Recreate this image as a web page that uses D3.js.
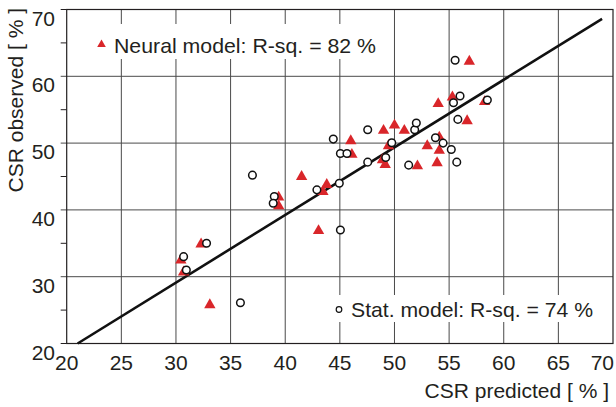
<!DOCTYPE html>
<html>
<head>
<meta charset="utf-8">
<script src="https://cdn.jsdelivr.net/npm/d3@7"></script>
<style>
    body { margin: 0; background: #fff; }
    svg text { font-family: "Liberation Sans", Arial, sans-serif; fill: #231f20; }
</style>
</head>
<body>
<svg id="svg1" width="616" height="407"></svg>
<script>
    // neural model: predicted / observed
    var neuralX = [32.3, 30.45, 30.7, 33.1, 39.4, 39.4, 41.5, 43.45, 43.8, 43.05, 46.0, 46.1, 49.0, 50.0, 50.9, 49.45, 48.9, 49.15, 53.0, 54.1, 54.1, 53.9, 52.1, 54.0, 55.3, 56.85, 58.25, 56.65];
    var neuralY = [35.0, 32.6, 30.8, 25.9, 42.0, 40.7, 45.1, 42.85, 43.9, 37.0, 50.45, 48.4, 52.0, 52.8, 52.0, 49.7, 47.6, 46.9, 49.7, 51.0, 49.0, 47.15, 46.7, 56.0, 57.0, 62.35, 56.3, 53.45];
    // statistical model
    var statX = [32.8, 30.7, 30.95, 35.9, 37.0, 39.0, 38.9, 42.9, 44.95, 45.05, 44.4, 45.05, 45.65, 47.55, 47.55, 49.75, 49.2, 51.3, 51.85, 52.0, 53.75, 54.45, 55.2, 55.7, 55.8, 55.4, 56.0, 55.55, 58.5];
    var statY = [35.0, 33.0, 31.0, 26.1, 45.2, 42.0, 41.0, 43.0, 44.0, 37.0, 50.6, 48.45, 48.45, 52.0, 47.15, 50.05, 47.85, 46.7, 52.0, 53.0, 50.8, 50.0, 49.05, 47.15, 53.55, 56.05, 57.05, 62.4, 56.45];
    // reference line end points
    var lineX = [21, 69];
    var lineY = [20, 68.6];
    var xTicks = [20, 25, 30, 35, 40, 45, 50, 55, 60, 65, 70];
    var yTicks = [20, 30, 40, 50, 60, 70];
    var yMinor = [25, 35, 45, 55, 65];
    var legendNeural = 'Neural model: R-sq. = 82 %';
    var legendStat = 'Stat. model: R-sq. = 74 %';

    var svg = d3.select("#svg1");
    var x = d3.scaleLinear().domain([20, 70]).range([66.7, 613]);
    var y = d3.scaleLinear().domain([20, 70]).range([343.5, 9.5]);

    var grid = svg.append("g").attr("class", "grid");
    grid.selectAll("line.v")
        .data(xTicks.slice(1, -1))
        .enter().append("line")
        .attr("x1", function(d) { return x(d); })
        .attr("x2", function(d) { return x(d); })
        .attr("y1", y(70))
        .attr("y2", y(20))
        .attr("stroke", "#4a4a4a")
        .attr("stroke-width", 1);
    grid.selectAll("line.h")
        .data(yTicks.slice(1, -1))
        .enter().append("line")
        .attr("x1", x(20) - 6)
        .attr("x2", x(70))
        .attr("y1", function(d) { return y(d); })
        .attr("y2", function(d) { return y(d); })
        .attr("stroke", "#4a4a4a")
        .attr("stroke-width", 1);
    grid.selectAll("line.m")
        .data(yMinor.concat([20, 70]))
        .enter().append("line")
        .attr("x1", x(20) - 6)
        .attr("x2", x(20))
        .attr("y1", function(d) { return y(d); })
        .attr("y2", function(d) { return y(d); })
        .attr("stroke", "#231f20")
        .attr("stroke-width", 1);

    // white boxes behind legend texts
    svg.append("rect").attr("x", 90).attr("y", 24).attr("width", 295).attr("height", 35).attr("fill", "#fff");
    svg.append("rect").attr("x", 330).attr("y", 295).attr("width", 272).attr("height", 27).attr("fill", "#fff");

    // frame
    svg.append("rect")
        .attr("x", x(20)).attr("y", y(70))
        .attr("width", x(70) - x(20)).attr("height", y(20) - y(70))
        .attr("fill", "none").attr("stroke", "#231f20").attr("stroke-width", 1.2);

    // tick labels
    svg.append("g").selectAll("text")
        .data(xTicks)
        .enter().append("text")
        .attr("x", function(d) { return d == 70 ? 614 : x(d); })
        .attr("y", 370)
        .attr("text-anchor", function(d) { return d == 70 ? "end" : "middle"; })
        .attr("font-size", 21)
        .text(function(d) { return d; });
    svg.append("g").selectAll("text")
        .data(yTicks)
        .enter().append("text")
        .attr("x", 55)
        .attr("y", function(d) { return y(d) + 16; })
        .attr("text-anchor", "end")
        .attr("font-size", 21)
        .text(function(d) { return d; });

    svg.append("text")
        .attr("x", 609).attr("y", 398)
        .attr("text-anchor", "end")
        .attr("font-size", 21)
        .text("CSR predicted [ % ]");
    svg.append("text")
        .attr("transform", "translate(23,8) rotate(-90)")
        .attr("text-anchor", "end")
        .attr("font-size", 21)
        .text("CSR observed [ % ]");

    // reference line
    svg.append("line")
        .attr("x1", x(lineX[0])).attr("y1", y(lineY[0]))
        .attr("x2", x(lineX[1])).attr("y2", y(lineY[1]))
        .attr("stroke", "#111").attr("stroke-width", 2.6);

    var tri = d3.symbol().type(d3.symbolTriangle).size(56);
    svg.append("g").selectAll("path")
        .data(d3.range(neuralX.length))
        .enter().append("path")
        .attr("d", tri)
        .attr("transform", function(i) { return "translate(" + x(neuralX[i]) + "," + (y(neuralY[i]) + 0.8) + ")"; })
        .attr("fill", "#d9262a");

    svg.append("g").selectAll("circle")
        .data(d3.range(statX.length))
        .enter().append("circle")
        .attr("cx", function(i) { return x(statX[i]); })
        .attr("cy", function(i) { return y(statY[i]); })
        .attr("r", 3.8)
        .attr("fill", "#fff")
        .attr("stroke", "#111")
        .attr("stroke-width", 1.5);

    // legends
    svg.append("path")
        .attr("d", d3.symbol().type(d3.symbolTriangle).size(32))
        .attr("transform", "translate(101.5,44.5)")
        .attr("fill", "#d9262a");
    svg.append("text")
        .attr("x", 114).attr("y", 52.5)
        .attr("font-size", 21)
        .attr("textLength", 262).attr("lengthAdjust", "spacingAndGlyphs")
        .text(legendNeural);
    svg.append("circle")
        .attr("cx", 339).attr("cy", 309.5).attr("r", 2.8)
        .attr("fill", "#fff").attr("stroke", "#111").attr("stroke-width", 1.2);
    svg.append("text")
        .attr("x", 351).attr("y", 316.8)
        .attr("font-size", 21)
        .attr("textLength", 242).attr("lengthAdjust", "spacingAndGlyphs")
        .text(legendStat);
</script>
</body>
</html>
